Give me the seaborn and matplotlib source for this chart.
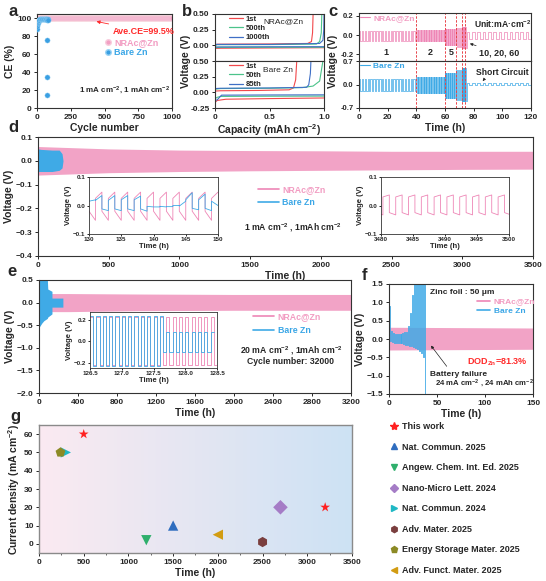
import numpy as np
import matplotlib
matplotlib.use("Agg")
import matplotlib.pyplot as plt
from matplotlib.colors import LinearSegmentedColormap
from matplotlib.lines import Line2D
from matplotlib.ticker import MultipleLocator
import seaborn as sns

# Style
sns.set_theme(style="ticks")
plt.rcParams.update({
    "font.family": ["Liberation Sans", "DejaVu Sans"],
    "font.weight": "bold",
    "axes.labelweight": "bold",
    "axes.labelsize": 7.5,
    "xtick.labelsize": 6,
    "ytick.labelsize": 6,
    "axes.linewidth": 0.8,
    "axes.edgecolor": "#333333",
    "xtick.major.size": 2.5,
    "ytick.major.size": 2.5,
    "xtick.major.width": 0.7,
    "ytick.major.width": 0.7,
    "xtick.major.pad": 1.5,
    "ytick.major.pad": 1.5,
    "axes.labelpad": 1.5,
    "mathtext.fontset": "custom",
    "mathtext.rm": "Liberation Sans:bold",
    "mathtext.bf": "Liberation Sans:bold",
    "mathtext.default": "bf",
})

PINK = "#F2A3C6"
PINK_LINE = "#EE86B6"
PINK_TXT = "#F29CC2"
BLUE = "#3FAAE6"
BLUE_TXT = "#3AA6E6"
RED = "#FF2B2B"
DASH_RED = "#E8444A"

# ---------------- (a) Coulombic efficiency ----------------
a_nrac_cycle = np.arange(1, 1001)
a_nrac_ce = np.full(a_nrac_cycle.size, 99.5)   # Ave.CE given on the chart
a_bare_cycle = [1, 2, 3, 4, 5, 6, 8, 10, 13, 16, 20, 25, 30, 35, 40, 45, 50, 55,
                60, 65, 68, 70, 72, 74, 75, 76, 77, 78, 80]
a_bare_ce = [88, 91, 93, 94.5, 95.5, 96, 97, 97.5, 98, 98, 98.5, 98.5, 99, 99, 99,
             98.5, 99, 99, 99, 98.5, 99, 98.5, 99, 98, 76, 35, 15, 98.5, 97.5]

# ---------------- (b) voltage-capacity profiles ----------------
b_colors = ["#F2484B", "#4CC38A", "#3F6FC6"]
b_nrac_labels = ["1st", "500th", "1000th"]
b_bare_labels = ["1st", "50th", "85th"]
b_plate_cap = [0, 0.01, 0.05, 0.5, 1.0]
b_nrac_plate_v = [[-0.02, -0.048, -0.046, -0.042, -0.038],
                  [-0.015, -0.036, -0.034, -0.032, -0.030],
                  [-0.010, -0.026, -0.025, -0.023, -0.022]]
b_nrac_strip_cap = [[0, 0.02, 0.5, 0.85, 0.885, 0.895, 0.90],
                    [0, 0.02, 0.5, 0.93, 0.96, 0.975, 0.98],
                    [0, 0.005, 0.5, 0.96, 0.99, 0.998, 1.0]]
b_nrac_strip_v = [[0.0, 0.018, 0.022, 0.03, 0.06, 0.2, 0.5],
                  [0.0, 0.010, 0.012, 0.02, 0.06, 0.2, 0.5],
                  [0.38, 0.015, 0.015, 0.03, 0.08, 0.25, 0.5]]
b_bare_plate_cap = [[0, 0.02, 0.1, 0.5, 1.0],
                    [0, 0.02, 0.05, 0.5, 1.0],
                    [0, 0.02, 0.06, 0.5, 1.0]]
b_bare_plate_v = [[-0.16, -0.13, -0.11, -0.10, -0.09],
                  [-0.10, -0.08, -0.065, -0.062, -0.06],
                  [-0.13, -0.12, -0.045, -0.042, -0.04]]
b_bare_strip_cap = [[0, 0.05, 0.4, 0.68, 0.72, 0.74, 0.75],
                    [0, 0.05, 0.5, 0.8, 0.9, 0.96, 0.99],
                    [0, 0.05, 0.5, 0.84, 0.86, 0.875, 0.88]]
b_bare_strip_v = [[0.02, 0.025, 0.03, 0.04, 0.07, 0.2, 0.5],
                  [0.05, 0.06, 0.065, 0.075, 0.10, 0.18, 0.5],
                  [0.06, 0.065, 0.07, 0.08, 0.12, 0.3, 0.5]]

# ---------------- (c) rate test ----------------
c_seg_start = [0, 40, 60, 68, 72, 74, 75]
c_seg_end = [40, 60, 68, 72, 74, 75, 120]
c_seg_period = [2.0, 1.0, 0.4, 0.2, 0.1, 0.05, 3.75]
c_nrac_high = [0.04, 0.05, 0.06, 0.07, 0.08, 0.08, 0.03]
c_nrac_low = [-0.06, -0.065, -0.10, -0.12, -0.13, -0.13, -0.04]
c_bare_high = [0.15, 0.22, 0.35, 0.42, 0.48, 0.5, 0.03]
c_bare_low = [-0.20, -0.25, -0.40, -0.45, -0.50, -0.5, -0.02]
c_switch = [40, 60, 68, 72, 74]

# ---------------- (d) 1 mA cm-2 cycling ----------------
d_nrac_t = [0, 500, 1000, 1500, 2000, 2500, 3000, 3500]
d_nrac_high = [0.06, 0.05, 0.045, 0.043, 0.042, 0.04, 0.04, 0.04]
d_nrac_low = [-0.06, -0.05, -0.045, -0.042, -0.04, -0.038, -0.036, -0.035]
d_bare_t = [0, 20, 100, 150, 170, 177]
d_bare_high = [0.05, 0.048, 0.045, 0.045, 0.03, 0.0]
d_bare_low = [-0.045, -0.045, -0.045, -0.04, -0.03, 0.0]
# inset 130-150 h (one value pair per 1 h half cycle: start, end)
d_in1_nrac_start = [-0.02, 0.025] * 10
d_in1_nrac_end = [-0.052, 0.047] * 10
d_in1_bare_start = [0.015, 0.018, -0.012, 0.018, -0.012, 0.02, -0.012, 0.02, -0.012, -0.003,
                    -0.005, -0.003, -0.004, 0.0, -0.002, 0.02, -0.01, 0.02, -0.01, 0.015]
d_in1_bare_end = [0.02, 0.035, -0.018, 0.035, -0.018, 0.035, -0.018, 0.033, -0.02, -0.005,
                  -0.005, -0.005, -0.004, 0.0, 0.015, 0.045, -0.015, 0.04, -0.018, 0.0]
# inset 3480-3500 h
d_in2_nrac_start = [-0.025, 0.03] * 11
d_in2_nrac_end = [-0.033, 0.037] * 11

# ---------------- (e) 20 mA cm-2 cycling ----------------
e_nrac_t = [0, 300, 1000, 2000, 3200]
e_nrac_high = [0.2, 0.2, 0.19, 0.18, 0.18]
e_nrac_low = [-0.2, -0.2, -0.18, -0.17, -0.17]
e_bare_t = [0, 15, 30, 50, 85, 90, 133, 133.1, 245]
e_bare_high = [0.55, 0.55, 0.55, 0.55, 0.55, 0.3, 0.25, 0.1, 0.1]
e_bare_low = [-0.55, -0.5, -0.45, -0.4, -0.35, -0.32, -0.25, -0.1, -0.1]
e_in_nrac_high = [0.22] * 20
e_in_nrac_low = [-0.22] * 20
e_in_bare_high = [0.23] * 12 + [0.08] * 8
e_in_bare_low = [-0.235] * 11 + [-0.1] * 9

# ---------------- (f) thin zinc foil ----------------
f_nrac_t = [0, 150]
f_nrac_high = [0.32, 0.30]
f_nrac_low = [-0.30, -0.28]
f_bare_high = [0.9, 0.22, 0.16, 0.14, 0.13, 0.13, 0.15, 0.16, 0.18, 0.2,
               0.35, 0.7, 1.2, 1.6, 1.6, 1.6, 1.6, 1.6, 1.6]
f_bare_low = [-0.05, -0.08, -0.1, -0.1, -0.1, -0.11, -0.12, -0.13, -0.15, -0.16,
              -0.18, -0.2, -0.22, -0.25, -0.28, -0.32, -0.38, -0.5, -1.6]

# ---------------- (g) comparison ----------------
g_source = ["This work", "This work", "Nat. Commun. 2025", "Angew. Chem. Int. Ed. 2025",
            "Nano-Micro Lett. 2024", "Nat. Commun. 2024", "Adv. Mater. 2025",
            "Energy Storage Mater. 2025", "Adv. Funct. Mater. 2025"]
g_time = [500, 3200, 1500, 1200, 2700, 300, 2500, 240, 2000]
g_current = [60, 20, 10, 2, 20, 50, 1, 50, 5]
g_order = ["This work", "Nat. Commun. 2025", "Angew. Chem. Int. Ed. 2025",
           "Nano-Micro Lett. 2024", "Nat. Commun. 2024", "Adv. Mater. 2025",
           "Energy Storage Mater. 2025", "Adv. Funct. Mater. 2025"]
g_markers = ["*", "^", "v", "D", ">", "h", "p", "<"]
g_colors = ["#FF2020", "#2F6DBF", "#2FAF6C", "#A57CC6", "#1FB8C4", "#7A3E3E", "#8C8A25", "#D29C12"]

W, H = 546, 581


def rect_px(l, t, r, b):
    return [l / W, 1 - b / H, (r - l) / W, (b - t) / H]


def square_wave(t0, half, highs, lows):
    levels = np.ravel(np.column_stack([highs, lows]))
    edges = t0 + half * np.arange(len(levels) + 1)
    return np.repeat(edges, 2)[1:-1], np.repeat(levels, 2)


def ramp_wave(t0, half, starts, ends):
    edges = t0 + half * np.arange(len(starts) + 1)
    return np.repeat(edges, 2)[1:-1], np.ravel(np.column_stack([starts, ends]))


def segment_wave(starts, ends, periods, highs, lows):
    ts, vs = [], []
    for s, e, p, hi, lo in zip(starts, ends, periods, highs, lows):
        n = int(round((e - s) / p))
        t, v = square_wave(s, p / 2, [hi] * n, [lo] * n)
        ts.append(t)
        vs.append(v)
    return np.concatenate(ts), np.concatenate(vs)


def line_legend(ax, labels, colors, anchor, fs=6, spacing=0.3, hl=1.6, text_colors=None, lw=1.2):
    handles = [Line2D([], [], color=c, lw=lw) for c in colors]
    leg = ax.legend(handles, labels, loc="upper left", bbox_to_anchor=anchor, frameon=False,
                    fontsize=fs, handlelength=hl, handletextpad=0.4, borderpad=0,
                    borderaxespad=0, labelspacing=spacing)
    if text_colors:
        for t, c in zip(leg.get_texts(), text_colors):
            t.set_color(c)
    return leg


fig = plt.figure(figsize=(W / 100, H / 100), dpi=100)

# ---------- a ----------
ax = fig.add_axes(rect_px(37, 14, 172, 108))
sns.scatterplot(x=a_nrac_cycle, y=a_nrac_ce, ax=ax, color="#F2A0C3", s=12,
                edgecolor="#F8CCDD", linewidth=0.3, legend=False, zorder=2)
sns.scatterplot(x=a_bare_cycle, y=a_bare_ce, ax=ax, color="#3A9FE2", s=14,
                edgecolor="#9AD3F5", linewidth=0.3, legend=False, zorder=3)
ax.set_xlim(0, 1000)
ax.set_ylim(0, 104.5)
ax.set_xticks([0, 250, 500, 750, 1000])
ax.set_yticks([0, 20, 40, 60, 80, 100])
ax.set_xlabel("Cycle number")
ax.set_ylabel("CE (%)")
ax.annotate("Ave.CE=99.5%", xy=(420, 96.8), xytext=(565, 85.5), color=RED, fontsize=6.5,
            ha="left", va="center",
            arrowprops=dict(arrowstyle="-|>", color=RED, lw=0.6, mutation_scale=5, shrinkA=1))
hs = [Line2D([], [], marker="o", ls="", color="#F2A0C3", markeredgecolor="#F8CCDD", markersize=4),
      Line2D([], [], marker="o", ls="", color="#3A9FE2", markeredgecolor="#9AD3F5", markersize=4)]
leg = ax.legend(hs, ["NRAc@Zn", "Bare Zn"], loc="upper left", bbox_to_anchor=(0.5, 0.745),
                frameon=False, fontsize=6.5, handlelength=0.8, handletextpad=0.3, borderpad=0,
                borderaxespad=0, labelspacing=0.1)
for t, c in zip(leg.get_texts(), [PINK_TXT, BLUE_TXT]):
    t.set_color(c)
ax.text(0.985, 0.19, "1 mA cm$^{-2}$, 1 mAh cm$^{-2}$", transform=ax.transAxes,
        ha="right", va="center", fontsize=5.8)

# ---------- b ----------
ax_b1 = fig.add_axes(rect_px(215, 14, 324, 61))
ax_b2 = fig.add_axes(rect_px(215, 61, 324, 108))
for i in range(3):
    sns.lineplot(x=b_plate_cap, y=b_nrac_plate_v[i], ax=ax_b1, color=b_colors[i], lw=0.8,
                 sort=False, estimator=None)
    sns.lineplot(x=b_nrac_strip_cap[i], y=b_nrac_strip_v[i], ax=ax_b1, color=b_colors[i],
                 lw=0.8, sort=False, estimator=None)
    sns.lineplot(x=b_bare_plate_cap[i], y=b_bare_plate_v[i], ax=ax_b2, color=b_colors[i],
                 lw=0.8, sort=False, estimator=None)
    sns.lineplot(x=b_bare_strip_cap[i], y=b_bare_strip_v[i], ax=ax_b2, color=b_colors[i],
                 lw=0.8, sort=False, estimator=None)
for a_ in (ax_b1, ax_b2):
    a_.set_xlim(0, 1.0)
    a_.set_ylim(-0.25, 0.5)
    a_.set_ylabel("")
ax_b1.set_yticks([0.0, 0.25, 0.5])
ax_b1.set_yticklabels(["0.00", "0.25", "0.50"])
ax_b1.set_xticks([0, 0.5, 1.0])
ax_b1.tick_params(axis="x", labelbottom=False, length=0)
ax_b2.set_yticks([-0.25, 0.0, 0.25, 0.5])
ax_b2.set_yticklabels(["-0.25", "0.00", "0.25", "0.50"])
ax_b2.set_xticks([0, 0.5, 1.0])
ax_b2.set_xticklabels(["0", "0.5", "1.0"])
ax_b2.set_xlabel("Capacity (mAh cm$^{-2}$)")
line_legend(ax_b1, b_nrac_labels, b_colors, (0.13, 0.97), fs=5.5, spacing=0.25, hl=1.8, lw=0.9)
line_legend(ax_b2, b_bare_labels, b_colors, (0.13, 0.97), fs=5.5, spacing=0.25, hl=1.8, lw=0.9)
ax_b1.text(0.44, 0.83, "NRAc@Zn", transform=ax_b1.transAxes, fontsize=6, fontweight="normal",
           va="center")
ax_b2.text(0.44, 0.8, "Bare Zn", transform=ax_b2.transAxes, fontsize=6, fontweight="normal",
           va="center")
fig.text(186 / W, 1 - 61 / H, "Voltage (V)", rotation=90, ha="center", va="center",
         fontsize=7.5, fontweight="bold")

# ---------- c ----------
ax_c1 = fig.add_axes(rect_px(359, 13, 531, 61))
ax_c2 = fig.add_axes(rect_px(359, 61, 531, 108))
t, v = segment_wave(c_seg_start, c_seg_end, c_seg_period, c_nrac_high, c_nrac_low)
ax_c1.plot(t, v, color=PINK_LINE, lw=0.5)
t, v = segment_wave(c_seg_start, c_seg_end, c_seg_period, c_bare_high, c_bare_low)
ax_c2.plot(t, v, color=BLUE, lw=0.5)
for a_ in (ax_c1, ax_c2):
    a_.set_xlim(0, 120)
    a_.tick_params(axis="y", labelsize=5.5)
    for s in c_switch:
        a_.axvline(s, color=DASH_RED, ls=(0, (2.5, 1.5)), lw=0.7)
ax_c1.set_ylim(-0.27, 0.23)
ax_c1.set_yticks([-0.2, 0.0, 0.2])
ax_c1.set_yticklabels(["-0.2", "0.0", "0.2"])
ax_c1.set_xticks(range(0, 121, 20))
ax_c1.tick_params(axis="x", labelbottom=False, length=0)
ax_c2.set_ylim(-0.7, 0.7)
ax_c2.set_yticks([-0.7, 0.0, 0.7])
ax_c2.set_yticklabels(["-0.7", "0.0", "0.7"])
ax_c2.set_xticks(range(0, 121, 20))
ax_c2.set_xlabel("Time (h)")
line_legend(ax_c1, ["NRAc@Zn"], [PINK_LINE], (0.005, 0.98), fs=6, hl=1.2,
            text_colors=[PINK_TXT], lw=0.8)
line_legend(ax_c2, ["Bare Zn"], [BLUE], (0.005, 0.98), fs=6, hl=1.2,
            text_colors=[BLUE_TXT], lw=0.8)
for x_, s_ in zip([19, 50, 64], ["1", "2", "5"]):
    ax_c1.text(x_, -0.185, s_, ha="center", va="center", fontsize=6.5)
ax_c1.annotate("10, 20, 60", xy=(75.5, -0.08), xytext=(84, -0.19), fontsize=6.5,
               ha="left", va="center",
               arrowprops=dict(arrowstyle="-|>", color="#222222", lw=0.5, mutation_scale=4,
                               shrinkA=0))
ax_c1.text(100, 0.115, "Unit:mA·cm$^{-2}$", ha="center", va="center", fontsize=6.2)
ax_c2.annotate("Short Circuit", xy=(85, 0.04), xytext=(100, 0.37), fontsize=6.2,
               ha="center", va="center",
               arrowprops=dict(arrowstyle="-|>", color="#222222", lw=0.5, mutation_scale=4,
                               shrinkA=0, relpos=(0.2, 0.0)))
fig.text(333 / W, 1 - 61 / H, "Voltage (V)", rotation=90, ha="center", va="center",
         fontsize=7.5, fontweight="bold")

# ---------- d ----------
ax = fig.add_axes(rect_px(38, 137, 533, 256))
ax.fill_between(d_nrac_t, d_nrac_low, d_nrac_high, color=PINK, lw=0)
ax.fill_between(d_bare_t, d_bare_low, d_bare_high, color=BLUE, lw=0)
ax.set_xlim(0, 3500)
ax.set_ylim(-0.4, 0.1)
ax.set_xticks(range(0, 3501, 500))
ax.set_yticks([-0.4, -0.3, -0.2, -0.1, 0.0, 0.1])
ax.set_xlabel("Time (h)")
ax.set_ylabel("Voltage (V)")
line_legend(ax, ["NRAc@Zn", "Bare Zn"], [PINK_LINE, BLUE], (0.444, 0.6), fs=6.3, spacing=0.55,
            hl=2.4, text_colors=[PINK_TXT, BLUE_TXT])
ax.text(0.515, 0.235, "1 mA cm$^{-2}$ , 1mAh cm$^{-2}$", transform=ax.transAxes,
        ha="center", va="center", fontsize=6.2)

ins_kw = dict(labelsize=4.5, length=1.5, pad=1)
ax_i = fig.add_axes(rect_px(89, 177, 218, 234))
t, v = ramp_wave(130, 1.0, d_in1_nrac_start, d_in1_nrac_end)
ax_i.plot(t, v, color=PINK_LINE, lw=0.6)
t, v = ramp_wave(130, 1.0, d_in1_bare_start, d_in1_bare_end)
ax_i.plot(t, v, color=BLUE, lw=0.6)
ax_i.set_xlim(130, 150)
ax_i.set_ylim(-0.1, 0.1)
ax_i.set_xticks([130, 135, 140, 145, 150])
ax_i.set_yticks([-0.1, 0.0, 0.1])
ax_i.tick_params(**ins_kw)
ax_i.set_xlabel("Time (h)", fontsize=5.5, labelpad=0.5)
ax_i.set_ylabel("Voltage (V)", fontsize=5.5, labelpad=0.5)
for s in ax_i.spines.values():
    s.set_linewidth(0.6)

ax_i = fig.add_axes(rect_px(381, 177, 509, 234))
t, v = ramp_wave(3479.3, 1.0, d_in2_nrac_start, d_in2_nrac_end)
ax_i.plot(t, v, color=PINK_LINE, lw=0.6)
ax_i.set_xlim(3480, 3500)
ax_i.set_ylim(-0.1, 0.1)
ax_i.set_xticks([3480, 3485, 3490, 3495, 3500])
ax_i.set_yticks([-0.1, 0.0, 0.1])
ax_i.tick_params(**ins_kw)
ax_i.set_xlabel("Time (h)", fontsize=5.5, labelpad=0.5)
ax_i.set_ylabel("Voltage (V)", fontsize=5.5, labelpad=0.5)
for s in ax_i.spines.values():
    s.set_linewidth(0.6)

# ---------- e ----------
ax = fig.add_axes(rect_px(39, 280, 351, 393))
ax.fill_between(e_nrac_t, e_nrac_low, e_nrac_high, color=PINK, lw=0)
ax.fill_between(e_bare_t, e_bare_low, e_bare_high, color=BLUE, lw=0)
ax.set_xlim(0, 3200)
ax.set_ylim(-2.0, 0.5)
ax.set_xticks(range(0, 3201, 400))
ax.set_yticks([-2.0, -1.5, -1.0, -0.5, 0.0, 0.5])
ax.set_xlabel("Time (h)")
ax.set_ylabel("Voltage (V)")
line_legend(ax, ["NRAc@Zn", "Bare Zn"], [PINK_LINE, BLUE], (0.686, 0.715), fs=6.3, spacing=0.5,
            hl=2.4, text_colors=[PINK_TXT, BLUE_TXT])
ax.text(0.81, 0.375, "20 mA cm$^{-2}$ , 1mAh cm$^{-2}$", transform=ax.transAxes,
        ha="center", va="center", fontsize=6.2)
ax.text(0.805, 0.277, "Cycle number: 32000", transform=ax.transAxes,
        ha="center", va="center", fontsize=6.2)

ax_i = fig.add_axes(rect_px(90, 312, 217, 368))
t, v = square_wave(126.5, 0.05, e_in_nrac_high, e_in_nrac_low)
ax_i.plot(t, v, color=PINK_LINE, lw=0.6)
t, v = square_wave(126.5, 0.05, e_in_bare_high, e_in_bare_low)
ax_i.plot(t[:-2], v[:-2], color=BLUE, lw=0.6)
ax_i.set_xlim(126.5, 128.5)
ax_i.set_ylim(-0.25, 0.27)
ax_i.set_xticks([126.5, 127.0, 127.5, 128.0, 128.5])
ax_i.set_yticks([-0.2, 0.0, 0.2])
ax_i.tick_params(**ins_kw)
ax_i.set_xlabel("Time (h)", fontsize=5.5, labelpad=0.5)
ax_i.set_ylabel("Voltage (V)", fontsize=5.5, labelpad=0.5)
for s in ax_i.spines.values():
    s.set_linewidth(0.6)

# ---------- f ----------
ax = fig.add_axes(rect_px(389, 284, 533, 394))
ax.fill_between(f_nrac_t, f_nrac_low, f_nrac_high, color=PINK, lw=0)
t, v = square_wave(0, 1.0, f_bare_high, f_bare_low)
ax.plot(t, v, color=BLUE, lw=0.6)
ax.set_xlim(0, 150)
ax.set_ylim(-1.5, 1.5)
ax.set_xticks([0, 50, 100, 150])
ax.set_yticks([-1.5, -1.0, -0.5, 0.0, 0.5, 1.0, 1.5])
ax.set_xlabel("Time (h)")
ax.set_ylabel("Voltage (V)")
ax.text(0.285, 0.927, "Zinc foil : 50 μm", transform=ax.transAxes, fontsize=6, va="center")
line_legend(ax, ["NRAc@Zn", "Bare Zn"], [PINK_LINE, BLUE], (0.61, 0.875), fs=6, spacing=0.2,
            hl=1.6, text_colors=[PINK_TXT, BLUE_TXT])
ax.text(0.75, 0.29, "DOD$_{Zn}$=81.3%", transform=ax.transAxes, color=RED, fontsize=6.5,
        ha="center", va="center")
ax.annotate("Battery failure", xy=(0.28, 0.46), xytext=(0.285, 0.18), xycoords="axes fraction",
            textcoords="axes fraction", fontsize=6, ha="left", va="center",
            arrowprops=dict(arrowstyle="-|>", color="#222222", lw=0.5, mutation_scale=4,
                            shrinkA=1, relpos=(0.35, 1.0)))
ax.text(0.32, 0.095, "24 mA cm$^{-2}$ , 24 mAh cm$^{-2}$", transform=ax.transAxes, fontsize=5.6,
        ha="left", va="center")

# ---------- g ----------
ax = fig.add_axes(rect_px(39, 425, 352, 553))
grad = LinearSegmentedColormap.from_list("bg", ["#FBEAF1", "#CDE2F4"])
ax.imshow(np.linspace(0, 1, 256).reshape(1, -1), cmap=grad, aspect="auto",
          extent=[0, 3500, -5, 65], zorder=0)
sns.scatterplot(x=g_time, y=g_current, hue=g_source, style=g_source, hue_order=g_order,
                style_order=g_order, palette=dict(zip(g_order, g_colors)),
                markers=dict(zip(g_order, g_markers)), s=55, linewidth=0, legend=False,
                ax=ax, zorder=3)
ax.set_xlim(0, 3500)
ax.set_ylim(-5, 65)
ax.set_xticks(range(0, 3501, 500))
ax.xaxis.set_minor_locator(MultipleLocator(250))
ax.tick_params(axis="x", which="minor", length=1.5, width=0.5)
ax.set_yticks(range(0, 61, 10))
ax.set_xlabel("Time (h)")
ax.set_ylabel("Current density (mA cm$^{-2}$)")
for s in ax.spines.values():
    s.set_color("#8A8A8A")
    s.set_linewidth(1.0)

g_handles = [Line2D([], [], marker=m, ls="", color=c, markersize=6 if m == "*" else 4.5)
             for m, c in zip(g_markers, g_colors)]
fig.legend(g_handles, g_order, loc="upper left", bbox_to_anchor=(390 / W, 1 - 422 / H),
           frameon=False, fontsize=6.5, handlelength=0.8, handletextpad=0.5, borderpad=0,
           borderaxespad=0, labelspacing=1.28)

# panel letters
for x_, y_, s_ in [(13, 12, "a"), (187, 12, "b"), (333, 12, "c"), (13, 128, "d"),
                   (12, 272, "e"), (365, 275, "f"), (15, 417, "g")]:
    fig.text(x_ / W, 1 - y_ / H, s_, fontsize=12, fontweight="bold", ha="center", va="center")

fig.savefig("out.png", dpi=100)
plt.close(fig)
